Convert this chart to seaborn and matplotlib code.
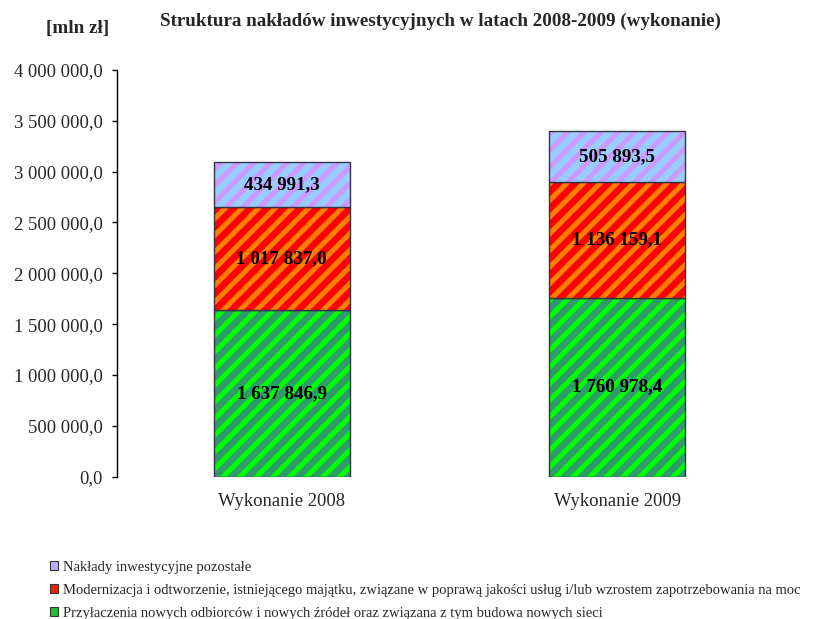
import numpy as np
import pandas as pd
import seaborn as sns
import matplotlib.pyplot as plt
from matplotlib.patches import Patch

# Data
categories = ['Wykonanie 2008', 'Wykonanie 2009']
przylaczenia = [1637846.9, 1760978.4]
modernizacja = [1017837.0, 1136159.1]
pozostale = [434991.3, 505893.5]

series_names = [
    'Przyłaczenia nowych odbiorców i nowych źródeł oraz związana z tym budowa nowych sieci',
    'Modernizacja i odtworzenie, istniejącego majątku, związane w poprawą jakości usług i/lub wzrostem zapotrzebowania na moc',
    'Nakłady inwestycyjne pozostałe',
]
base_colors = ['#2E9C68', '#FF0000', '#99CCFF']
stripe_colors = ['#00FF00', '#FF8000', '#CC99FF']

sns.set_style('white')
plt.rcParams['font.family'] = ['Liberation Serif', 'DejaVu Serif']
plt.rcParams['hatch.linewidth'] = 3.6

df = pd.DataFrame({'cat': categories, 'a': przylaczenia, 'b': modernizacja, 'c': pozostale})
layers = [df['a'].values, df['b'].values, df['c'].values]

fig = plt.figure(figsize=(8.19, 6.19), dpi=100)
ax = fig.add_axes([0.143, 0.23, 0.82, 0.657])

bottom = np.zeros(len(categories))
for vals, base, stripe in zip(layers, base_colors, stripe_colors):
    # base fill
    sns.barplot(x=categories, y=vals, bottom=bottom, color=base, width=0.405,
                saturation=1, edgecolor='none', linewidth=0, ax=ax)
    # diagonal stripes
    sns.barplot(x=categories, y=vals, bottom=bottom, color=base, width=0.405,
                saturation=1, linewidth=0, ax=ax)
    for p in ax.patches[-len(categories):]:
        p.set_facecolor('none')
        p.set_edgecolor(stripe)
        p.set_hatch('//')
        p.set_linewidth(0)
    # outline
    sns.barplot(x=categories, y=vals, bottom=bottom, width=0.405, color='#333344',
                saturation=1, linewidth=1.0, ax=ax)
    for p in ax.patches[-len(categories):]:
        p.set_facecolor('none')
        p.set_edgecolor('#333344')
    for i, v in enumerate(vals):
        txt = f'{v:,.1f}'.replace(',', ' ').replace('.', ',')
        ax.text(i, bottom[i] + v / 2, txt, ha='center', va='center',
                fontsize=13.7, fontweight='bold', color='black')
    bottom = bottom + vals

ax.set_xlim(-0.49, 1.51)
ax.set_ylim(0, 4000000)
yt = np.arange(0, 4000001, 500000)
ax.set_yticks(yt)
ax.set_yticklabels([f'{v:,.1f}'.replace(',', ' ').replace('.', ',') for v in yt], fontsize=13.4)
ax.tick_params(axis='y', direction='out', length=3.6, width=1, color='black', left=True, pad=7)
ax.tick_params(axis='x', labelsize=13.4, length=0, pad=12)
ax.set_xlabel('')
for s in ['top', 'right', 'bottom']:
    ax.spines[s].set_visible(False)
ax.spines['left'].set_color('black')
ax.spines['left'].set_linewidth(1)

fig.text(78 / 819, 1 - 29 / 619, '[mln zł]', fontsize=13.8, fontweight='bold', ha='center', va='center')
fig.text(440 / 819, 1 - 21 / 619, 'Struktura nakładów inwestycyjnych w latach 2008-2009 (wykonanie)',
         fontsize=13.7, fontweight='bold', ha='center', va='center')

handles = [Patch(facecolor=c, edgecolor='#333333', linewidth=0.8) for c in ['#B8B0FF', '#F02000', '#20C030']]
labels = [series_names[2], series_names[1], series_names[0]]
fig.legend(handles, labels, loc='upper left', bbox_to_anchor=(50 / 819, 1 - 561 / 619), frameon=False,
           fontsize=10.5, handlelength=0.55, handleheight=0.55, handletextpad=0.35,
           labelspacing=0.68, borderpad=0, borderaxespad=0)

fig.savefig('out.png', dpi=100)
